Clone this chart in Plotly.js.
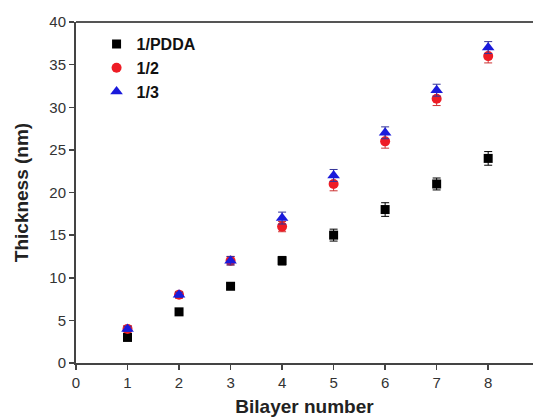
<!DOCTYPE html>
<html>
<head>
<meta charset="utf-8">
<script src="https://cdn.plot.ly/plotly-3.0.1.min.js"></script>
<style>html,body{margin:0;padding:0;background:#fff;}#chart{width:533px;height:419px;}</style>
</head>
<body>
<div id="chart"></div>
<script>
const bilayers = [1, 2, 3, 4, 5, 6, 7, 8];
const pddaValues = [3, 6, 9, 12, 15, 18, 21, 24];
const pddaErrors = [0.3, 0.3, 0.3, 0.5, 0.7, 0.8, 0.7, 0.8];
const half2Values = [4, 8, 12, 16, 21, 26, 31, 36];
const half2Errors = [0.4, 0.4, 0.5, 0.6, 0.8, 0.8, 0.8, 0.8];
const third3Values = [4, 8, 12, 17, 22, 27, 32, 37];
const third3Errors = [0.3, 0.3, 0.5, 0.7, 0.7, 0.7, 0.7, 0.7];
const seriesNames = ['1/PDDA', '1/2', '1/3'];

const traces = [
  {x: bilayers, y: pddaValues, name: seriesNames[0], mode: 'markers', type: 'scatter',
   marker: {symbol: 'square', size: 9, color: '#000000'},
   error_y: {type: 'data', array: pddaErrors, visible: true, color: '#000000', thickness: 1, width: 4}},
  {x: bilayers, y: half2Values, name: seriesNames[1], mode: 'markers', type: 'scatter',
   marker: {symbol: 'circle', size: 10, color: '#ee1c25'},
   error_y: {type: 'data', array: half2Errors, visible: true, color: '#cc3333', thickness: 1, width: 4}},
  {x: bilayers, y: third3Values, name: seriesNames[2], mode: 'markers', type: 'scatter',
   marker: {symbol: 'triangle-up', size: 11, color: '#1a1adb'},
   error_y: {type: 'data', array: third3Errors, visible: true, color: '#333399', thickness: 1, width: 4}}
];

const layout = {
  width: 533, height: 419,
  margin: {l: 76, r: 0, t: 22, b: 56},
  paper_bgcolor: '#ffffff', plot_bgcolor: '#ffffff',
  font: {family: 'Liberation Sans, Arial, sans-serif', color: '#333333', size: 15},
  showlegend: true,
  legend: {x: 0.045, y: 0.985, xanchor: 'left', yanchor: 'top', bgcolor: 'rgba(0,0,0,0)',
           font: {size: 16, color: '#111111', family: 'Liberation Sans, Arial, sans-serif', weight: 'bold'},
           tracegroupgap: 0, itemsizing: 'trace'},
  xaxis: {range: [0, 8.87], tickmode: 'array', tickvals: [0,1,2,3,4,5,6,7,8],
          ticks: 'outside', ticklen: 5, tickwidth: 1.5, tickcolor: '#444',
          showline: true, linecolor: '#444', linewidth: 2, showgrid: false, zeroline: false,
          tickfont: {size: 15, color: '#333'},
          title: {text: 'Bilayer number', font: {size: 19, color: '#222', weight: 'bold'}, standoff: 10}},
  yaxis: {range: [0, 40], tickmode: 'array', tickvals: [0,5,10,15,20,25,30,35,40],
          ticks: 'outside', ticklen: 5, tickwidth: 1.5, tickcolor: '#444',
          showline: true, linecolor: '#444', linewidth: 2, showgrid: false, zeroline: false,
          tickfont: {size: 15, color: '#333'},
          title: {text: 'Thickness (nm)', font: {size: 19, color: '#222', weight: 'bold'}, standoff: 16}},
  shapes: [{type: 'line', xref: 'paper', yref: 'paper', x0: 0, x1: 1, y0: 1, y1: 1,
            line: {color: '#555', width: 2}}]
};

Plotly.newPlot('chart', traces, layout, {displayModeBar: false, staticPlot: true});
</script>
</body>
</html>
